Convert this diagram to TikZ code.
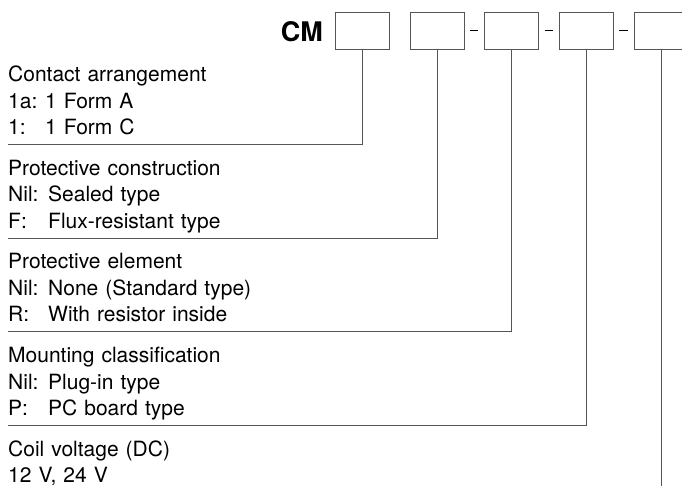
\documentclass[tikz,border=0pt]{standalone}
\usepackage{fontspec}
\setmainfont{TeX Gyre Heros}
\usepackage{tikz}
\usetikzlibrary{positioning}
\definecolor{linegray}{RGB}{85,85,85}
\tikzset{
  codebox/.style={draw=linegray, line width=0.9pt, minimum width=54pt, minimum height=37pt, inner sep=0pt},
  lead/.style={draw=linegray, line width=0.9pt},
  sepdash/.style={draw=black, line width=0.6pt, shorten <=6pt, shorten >=6pt},
  infotext/.style={anchor=base west, inner sep=0pt, text width=320pt, align=left, font=\fontsize{21}{26.5}\selectfont}
}

\begin{document}
\begin{tikzpicture}[x=1pt, y=-1pt]
        \useasboundingbox (0,0) rectangle (682,486);

        % Type code boxes
        \node[anchor=base east, inner sep=0pt, font=\fontsize{27}{27}\bfseries\selectfont] (cm) at (323,42) {CM};
        \node[codebox] (box1) at (362,30.5) {};
        \node[codebox] (box2) at (437,30.5) {};
        \node[codebox] (box3) at (511.5,30.5) {};
        \node[codebox] (box4) at (586,30.5) {};
        \node[codebox] (box5) at (661,30.5) {};

        % Dashes between the boxes
        \draw[sepdash] (box2.east) -- (box3.west);
        \draw[sepdash] (box3.east) -- (box4.west);
        \draw[sepdash] (box4.east) -- (box5.west);

        % Descriptions
        \node[infotext] (contact) at (8,82) {Contact arrangement\\
          \makebox[37pt][l]{1a:}1 Form A\\
          \makebox[37pt][l]{1:}1 Form C};
        \node[infotext] (construction) at (8,175.5) {Protective construction\\
          \makebox[40pt][l]{Nil:}Sealed type\\
          \makebox[40pt][l]{F:}Flux-resistant type};
        \node[infotext] (element) at (8,269) {Protective element\\
          \makebox[40pt][l]{Nil:}None (Standard type)\\
          \makebox[40pt][l]{R:}With resistor inside};
        \node[infotext] (mounting) at (8,362.5) {Mounting classification\\
          \makebox[40pt][l]{Nil:}Plug-in type\\
          \makebox[40pt][l]{P:}PC board type};
        \node[infotext] (coil) at (8,456) {Coil voltage (DC)\\
          12 V, 24 V};

        % Leader lines
        \coordinate (end1) at (8,144.5);
        \coordinate (end2) at (8,238);
        \coordinate (end3) at (8,331.5);
        \coordinate (end4) at (8,425);
        \coordinate (end5) at (661,486);
        \draw[lead] (box1.south) |- (end1);
        \draw[lead] (box2.south) |- (end2);
        \draw[lead] (box3.south) |- (end3);
        \draw[lead] (box4.south) |- (end4);
        \draw[lead] (box5.south) -- (end5);
    \end{tikzpicture}
\end{document}
